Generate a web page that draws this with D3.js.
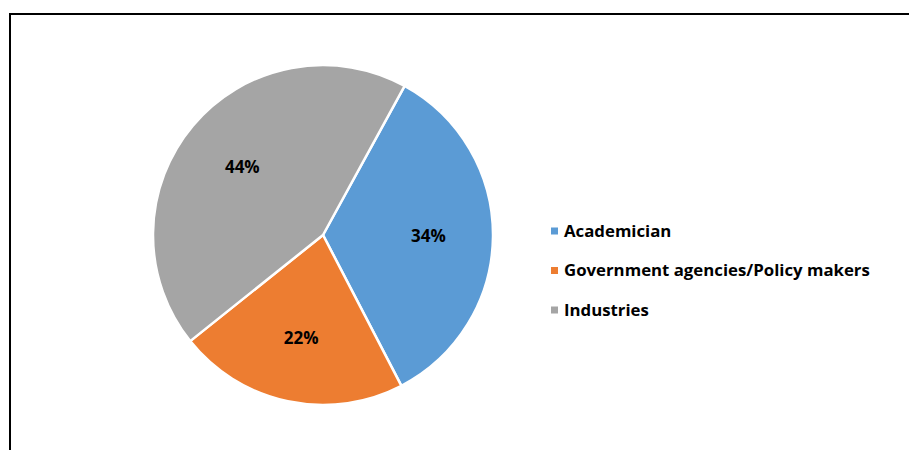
<!DOCTYPE html>
<html lang="en">
<head>
  <meta charset="UTF-8">
  <script src="https://d3js.org/d3.v7.min.js"></script>
  <style>
    body { margin: 0; background: #fff; }
  </style>
</head>
<body>
  <script>
    // data (slice sizes estimated from the angles)
    const categories = ["Academician", "Government agencies/Policy makers", "Industries"];
    const shares = [34.4, 21.9, 43.7];
    const labels = ["34%", "22%", "44%"];
    const colors = ["#5B9BD5", "#ED7D31", "#A5A5A5"];

    const width = 909;
    const height = 450;
    const cx = 323, cy = 235, radius = 170;
    const font = "'Open Sans', Lato, sans-serif";

    const svg = d3.select("body")
      .append("svg")
      .attr("width", width)
      .attr("height", height);

    // chart frame (runs off the right and bottom of the picture)
    svg.append("rect")
      .attr("x", 10)
      .attr("y", 14)
      .attr("width", width + 20)
      .attr("height", height + 20)
      .attr("fill", "none")
      .attr("stroke", "#000")
      .attr("stroke-width", 2);

    const data = categories.map((c, i) => ({ name: c, value: shares[i], label: labels[i], color: colors[i] }));

    const startAngle = 28.7 * Math.PI / 180;
    const pie = d3.pie()
      .value(d => d.value)
      .sort(null)
      .startAngle(startAngle)
      .endAngle(startAngle + 2 * Math.PI);

    const arc = d3.arc().innerRadius(0).outerRadius(radius);
    const labelArc = d3.arc().innerRadius(radius * 0.62).outerRadius(radius * 0.62);

    const g = svg.append("g").attr("transform", `translate(${cx},${cy})`);

    g.selectAll("path")
      .data(pie(data))
      .join("path")
      .attr("d", arc)
      .attr("fill", d => d.data.color)
      .attr("stroke", "#fff")
      .attr("stroke-width", 2.5)
      .attr("stroke-linejoin", "round");

    g.selectAll("text")
      .data(pie(data))
      .join("text")
      .attr("transform", d => `translate(${labelArc.centroid(d)})`)
      .attr("text-anchor", "middle")
      .attr("dy", "0.35em")
      .style("font-family", font)
      .style("font-weight", "bold")
      .style("font-size", "17px")
      .attr("fill", "#000")
      .text(d => d.data.label);

    // legend
    const legend = svg.append("g").attr("transform", "translate(551,231)");
    const item = legend.selectAll("g")
      .data(data)
      .join("g")
      .attr("transform", (d, i) => `translate(0,${i * 39.5})`);

    item.append("rect")
      .attr("x", 0)
      .attr("y", -3.5)
      .attr("width", 7)
      .attr("height", 7)
      .attr("fill", d => d.color);

    item.append("text")
      .attr("x", 13)
      .attr("dy", "0.35em")
      .style("font-family", font)
      .style("font-weight", "bold")
      .style("font-size", "16.8px")
      .attr("fill", "#000")
      .text(d => d.name);
  </script>
</body>
</html>
